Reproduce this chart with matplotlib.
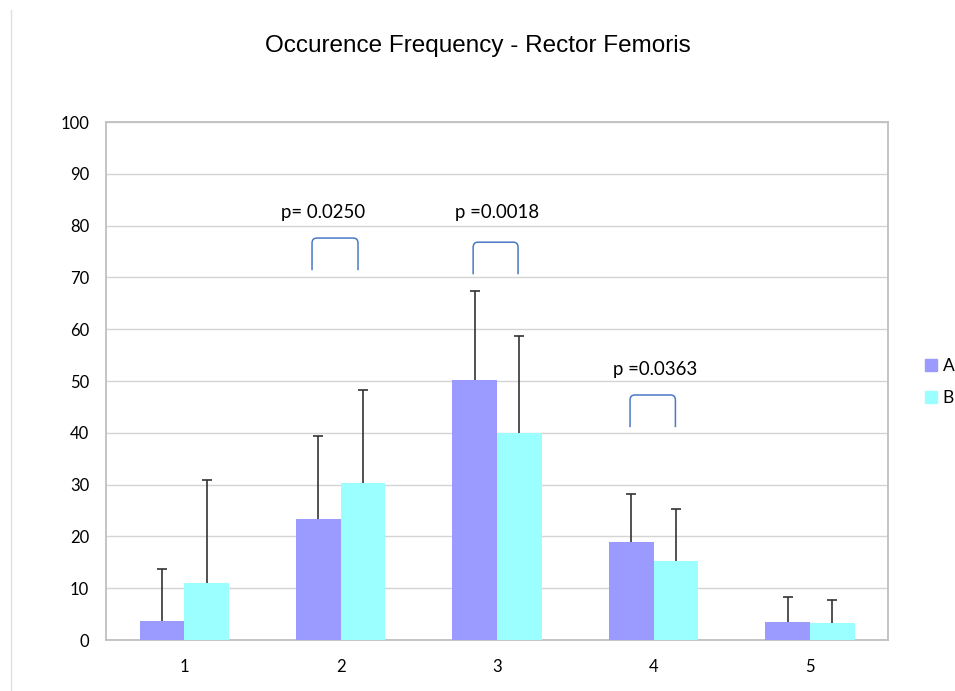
import matplotlib
matplotlib.use('Agg')
import matplotlib.pyplot as plt
from matplotlib.path import Path
from matplotlib.patches import PathPatch, Patch
from matplotlib.lines import Line2D
import numpy as np

categories = ['1', '2', '3', '4', '5']
a_vals = [3.7, 23.3, 50.2, 19.0, 3.5]
a_err = [10.0, 16.0, 17.1, 9.2, 4.8]
b_vals = [11.0, 30.4, 40.0, 15.3, 3.3]
b_err = [19.9, 17.8, 18.7, 10.0, 4.4]

# significance brackets (x in category index units, 0-based)
sig_labels = ['p= 0.0250', 'p =0.0018', 'p =0.0363']
sig_left = [0.817, 1.847, 2.85]
sig_right = [1.111, 2.134, 3.14]
sig_top = [77.6, 76.8, 47.3]
sig_text_x = [0.889, 1.998, 3.01]
sig_text_y = [82.6, 82.6, 52.3]

col_a = '#9b9bff'
col_b = '#9bffff'

fig = plt.figure(figsize=(9.55, 6.91), dpi=100)
ax = fig.add_axes([0.111, 0.0738, 0.819, 0.7496])

x = np.arange(len(categories))
w = 0.285
for xs, vals, errs, col in [(x - w / 2, a_vals, a_err, col_a), (x + w / 2, b_vals, b_err, col_b)]:
    ax.bar(xs, vals, w, color=col, zorder=3)
    tops = np.array(vals) + np.array(errs)
    ax.vlines(xs, vals, tops, color='#333333', lw=1.2, zorder=4)
    ax.scatter(xs, tops, marker='_', s=60, color='#333333', linewidths=1.2, zorder=4)

ax.set_xlim(-0.5, 4.5)
ax.set_ylim(0, 100)
ax.set_yticks(range(0, 101, 10))
ax.set_xticks(x)
ax.set_xticklabels(categories)
ax.grid(axis='y', color='#d4d4d4', linewidth=1, zorder=0)
ax.tick_params(length=0, labelsize=12, pad=14)
ax.tick_params(axis='y', pad=12)
for lab in ax.get_xticklabels() + ax.get_yticklabels():
    lab.set_family('Lato')
for s in ax.spines.values():
    s.set_color('#bfbfbf')
    s.set_linewidth(1.3)

# brackets with rounded corners
for x0, x1, top, lab, tx, ty in zip(sig_left, sig_right, sig_top, sig_labels, sig_text_x, sig_text_y):
    bot = top - 6.2
    rx, ry = 0.03, 1.0
    verts = [(x0, bot), (x0, top - ry), (x0, top), (x0 + rx, top),
             (x1 - rx, top), (x1, top), (x1, top - ry), (x1, bot)]
    codes = [Path.MOVETO, Path.LINETO, Path.CURVE3, Path.CURVE3,
             Path.LINETO, Path.CURVE3, Path.CURVE3, Path.LINETO]
    ax.add_patch(PathPatch(Path(verts, codes), fill=False, edgecolor='#4a78c8', lw=1.1, zorder=4))
    ax.text(tx, ty, lab, ha='center', va='center', fontsize=13.4, family='Lato')

fig.text(0.5, 0.933, 'Occurence Frequency - Rector Femoris', ha='center', va='center',
         fontsize=17.5, family='Liberation Sans')

handles = [Patch(color=col_a, label='A'), Patch(color=col_b, label='B')]
leg = fig.legend(handles=handles, loc='center left', bbox_to_anchor=(0.969, 0.447),
                 frameon=False, handlelength=0.65, handleheight=0.65, handletextpad=0.35,
                 labelspacing=0.95, borderaxespad=0, borderpad=0.0,
                 prop={'family': 'Lato', 'size': 12.5})

fig.add_artist(Line2D([0.012, 0.012], [0.0, 0.985], color='#e0e0e0', lw=1))

plt.savefig('out.png', dpi=100)
